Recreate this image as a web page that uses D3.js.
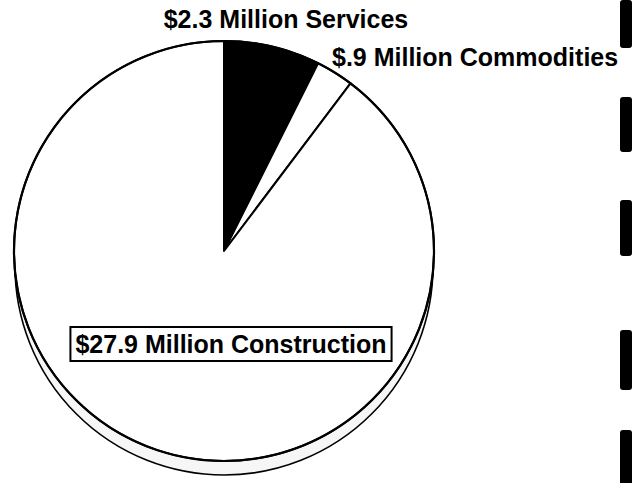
<!DOCTYPE html>
<html>
<head>
<meta charset="utf-8">
<script src="https://cdn.jsdelivr.net/npm/d3@7"></script>
<style>
  html, body { margin: 0; padding: 0; background: #fff; }
  svg { display: block; }
  text { font-family: "Liberation Sans", Arial, Helvetica, sans-serif; font-weight: bold; fill: #000; }
</style>
</head>
<body>
<div id="chart"></div>
<script>
// contract dollars, millions
const categories = ["Services", "Commodities", "Construction"];
const values = [2.3, 0.9, 27.9];
const labels = ["$2.3 Million Services", "$.9 Million Commodities", "$27.9 Million Construction"];

var width = 635,
    height = 483;

var svg = d3.select("#chart").append("svg")
    .attr("width", width)
    .attr("height", height);

var cx = 224, cy = 251, radius = 210;

var color = d3.scaleOrdinal()
    .domain(categories)
    .range(["#000", "#fff", "#fff"]);

var pie = d3.pie()
    .sort(null)
    .value(function (d) { return d.value; });

var arc = d3.arc()
    .innerRadius(0)
    .outerRadius(radius);

var data = categories.map(function (c, i) {
    return {name: c, value: values[i], label: labels[i]};
});
var arcs = pie(data);

// the tilted "edge" of the disc showing below it
svg.append("circle")
    .attr("cx", cx)
    .attr("cy", cy + 15)
    .attr("r", radius - 1)
    .attr("fill", "#f6f6f6")
    .attr("stroke", "#000")
    .attr("stroke-width", 1.6);

var g = svg.append("g")
    .attr("transform", "translate(" + cx + "," + cy + ")");

g.selectAll("path.slice")
    .data(arcs)
    .enter().append("path")
    .attr("class", "slice")
    .attr("d", arc)
    .attr("fill", function (d) { return color(d.data.name); })
    .attr("stroke", "#000")
    .attr("stroke-width", 2)
    .attr("stroke-linejoin", "round");

// outer rim
g.append("circle")
    .attr("r", radius)
    .attr("fill", "none")
    .attr("stroke", "#000")
    .attr("stroke-width", 2.2);

// labels
svg.append("text")
    .attr("x", 286)
    .attr("y", 28)
    .attr("text-anchor", "middle")
    .style("font-size", "25px")
    .text(arcs[0].data.label);

svg.append("text")
    .attr("x", 332)
    .attr("y", 66)
    .style("font-size", "25px")
    .text(arcs[1].data.label);

var box = svg.append("g");
var constText = box.append("text")
    .attr("x", 231)
    .attr("y", 353)
    .attr("text-anchor", "middle")
    .style("font-size", "25px")
    .text(arcs[2].data.label);
var bb = constText.node().getBBox();
box.insert("rect", "text")
    .attr("x", bb.x - 5)
    .attr("y", 327)
    .attr("width", bb.width + 10)
    .attr("height", 34)
    .attr("fill", "#fff")
    .attr("stroke", "#000")
    .attr("stroke-width", 2);

// binder tabs along the right edge of the scanned page
var tabs = [[0, 48], [97, 152], [200, 256], [330, 390], [430, 486]];
svg.selectAll("rect.tab")
    .data(tabs)
    .enter().append("rect")
    .attr("class", "tab")
    .attr("x", 620)
    .attr("y", function (d) { return d[0]; })
    .attr("width", 12)
    .attr("height", function (d) { return d[1] - d[0]; })
    .attr("rx", 3)
    .attr("fill", "#000");
</script>
</body>
</html>
